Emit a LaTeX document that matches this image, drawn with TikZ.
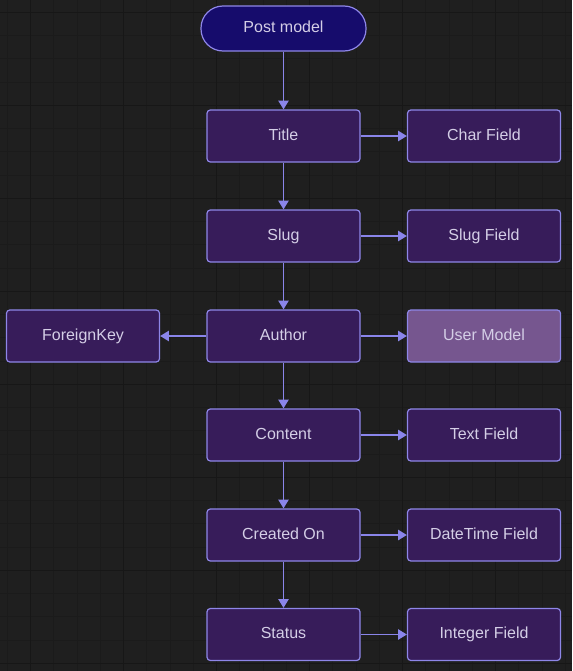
\documentclass[tikz,border=0pt]{standalone}
\usepackage{fontspec}
\setmainfont{Liberation Sans}
\usetikzlibrary{arrows.meta}
\definecolor{bg}{HTML}{1F1F1F}
\definecolor{gridminor}{HTML}{1B1B1B}
\definecolor{gridmajor}{HTML}{171717}
\definecolor{boxfill}{HTML}{371C5A}
\definecolor{boxline}{HTML}{8E86E8}
\definecolor{startfill}{HTML}{160C6C}
\definecolor{userfill}{HTML}{76568F}
\definecolor{txt}{HTML}{D4CEE6}
\definecolor{conncol}{HTML}{8A85EA}
\begin{document}
\begin{tikzpicture}[x=0.75pt,y=-0.75pt,
  gridline/.style={gridminor,line width=0.75pt},
  gridheavy/.style={gridmajor,line width=0.9pt},
  box/.style={draw=boxline,fill=boxfill,line width=0.9pt,rounded corners=2.5pt,
    minimum width=114.75pt,minimum height=39pt,inner sep=0pt,
    text height=9pt,text depth=2.5pt,
    text=txt,font=\fontsize{12}{14}\selectfont},
  startbox/.style={box,fill=startfill,rounded corners=16.5pt,
    minimum width=123.75pt,minimum height=33.75pt},
  userbox/.style={box,fill=userfill},
  conn/.style={conncol,line width=1.4pt,-{Triangle[length=6.5pt,width=7.5pt]}}]
\fill[bg] (0,0) rectangle (572,671);
\useasboundingbox (0,0) rectangle (572,671);
\foreach \i in {0,...,24} {
  \draw[gridline] ({7.3+23.25*\i},0) -- ({7.3+23.25*\i},671);
}
\foreach \i in {0,...,28} {
  \draw[gridline] (0,{12.3+23.25*\i}) -- (572,{12.3+23.25*\i});
}
\foreach \i in {0,...,6} {
  \draw[gridheavy] ({30.5+93*\i},0) -- ({30.5+93*\i},671);
}
\foreach \i in {0,...,7} {
  \draw[gridheavy] (0,{12.3+93*\i}) -- (572,{12.3+93*\i});
}
\node[startbox] (post) at (283.5,28.5) {Post model};
\node[box] (title) at (283.5,136) {Title};
\node[box] (char) at (484,136) {Char Field};
\node[box] (slug) at (283.5,236) {Slug};
\node[box] (slugf) at (484,236) {Slug Field};
\node[box] (author) at (283.5,336) {Author};
\node[box] (fk) at (83,336) {ForeignKey};
\node[userbox] (user) at (484,336) {User Model};
\node[box] (content) at (283.5,435) {Content};
\node[box] (textf) at (484,435) {Text Field};
\node[box] (created) at (283.5,535) {Created On};
\node[box] (dtf) at (484,535) {DateTime Field};
\node[box] (status) at (283.5,634.5) {Status};
\node[box] (intf) at (484,634.5) {Integer Field};
\draw[conn] (post) -- (title);
\draw[conn] (title) -- (char);
\draw[conn] (title) -- (slug);
\draw[conn] (slug) -- (slugf);
\draw[conn] (slug) -- (author);
\draw[conn] (author) -- (fk);
\draw[conn] (author) -- (user);
\draw[conn] (author) -- (content);
\draw[conn] (content) -- (textf);
\draw[conn] (content) -- (created);
\draw[conn] (created) -- (dtf);
\draw[conn] (created) -- (status);
\draw[conn] (status) -- (intf);
\end{tikzpicture}
\end{document}
